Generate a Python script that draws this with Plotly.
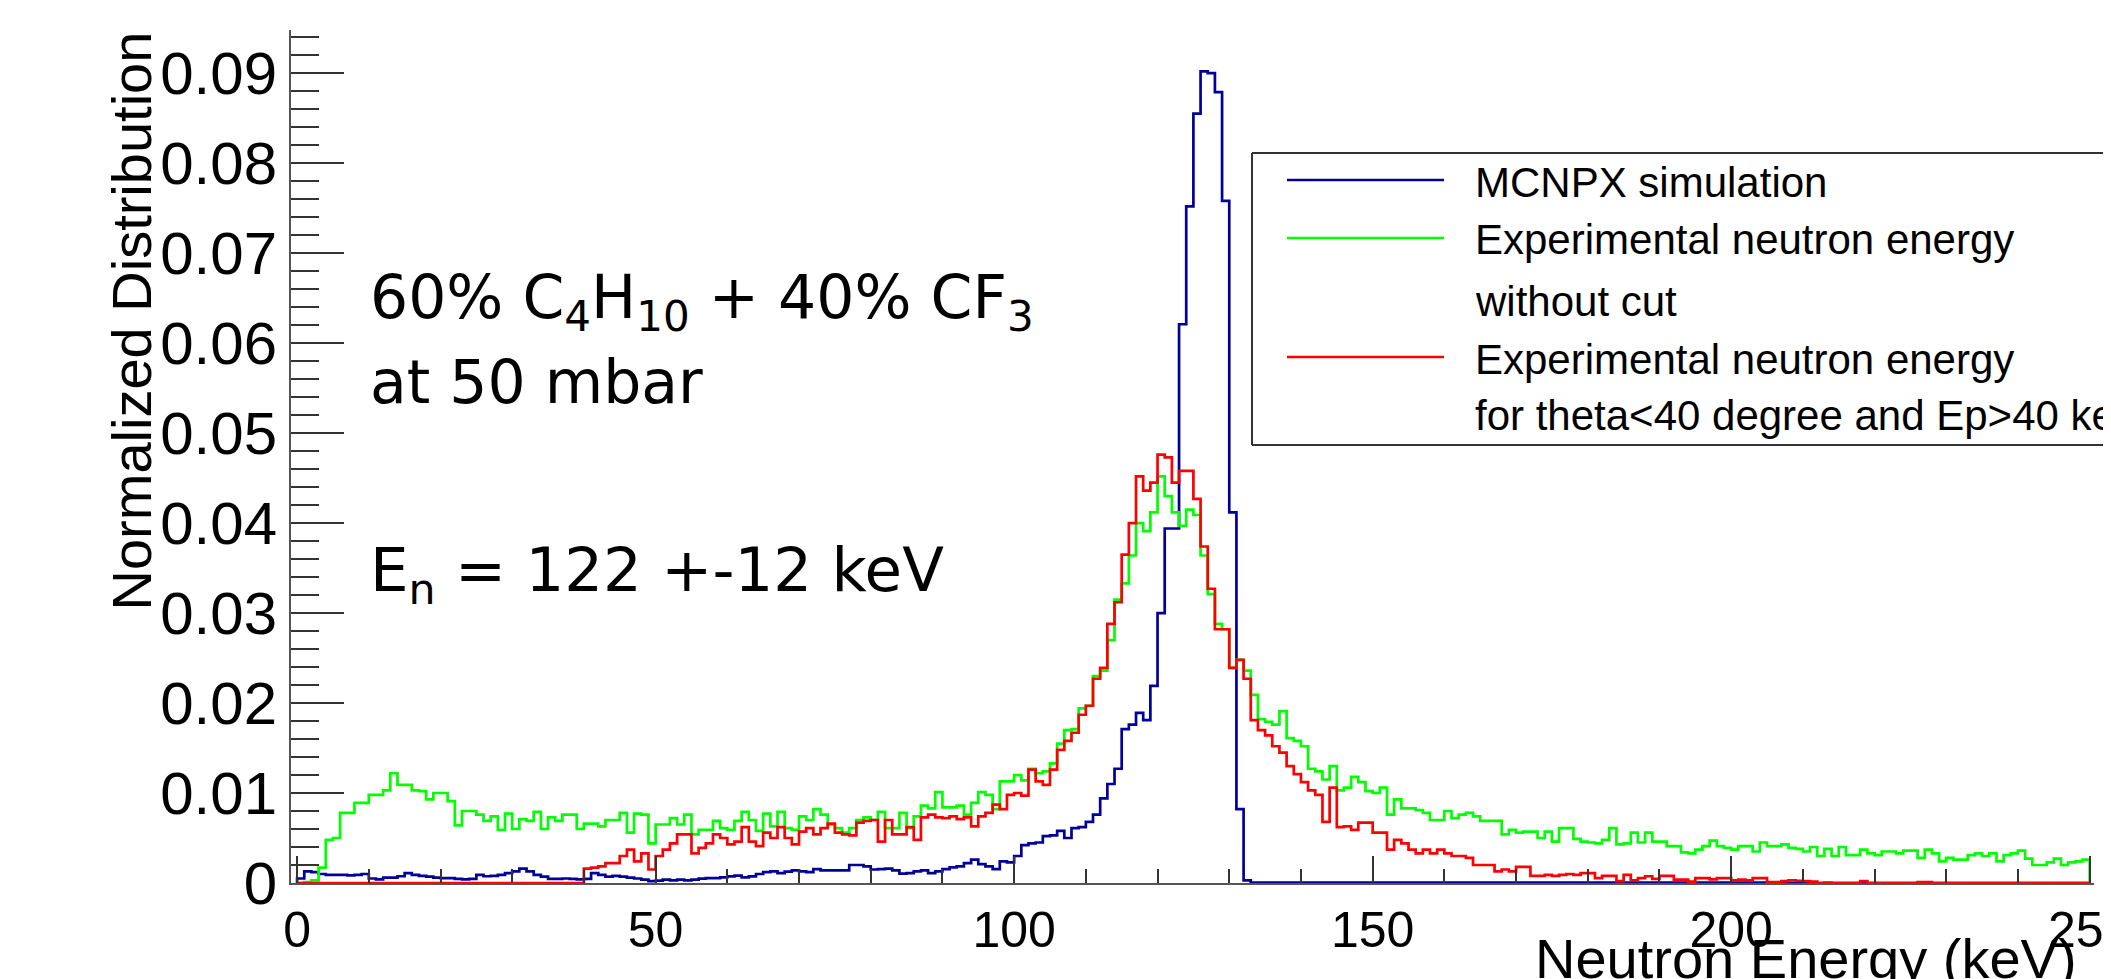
import plotly.graph_objects as go

# ---------------- data (bin width 1 keV, bins 0..249 keV), values in units of 1e-3 ----------------
bin_low_edges_keV = list(range(0, 250))

mcnpx_sim_e3 = [
    0.5, 1.3, 1.2, 1.0, 0.9, 0.9, 0.9, 0.85, 0.9, 1.0,
    0.5, 0.4, 0.6, 0.6, 0.75, 1.1, 0.9, 0.8, 0.7, 0.6,
    0.55, 0.55, 0.45, 0.4, 0.45, 0.9, 0.75, 0.8, 0.9, 1.1,
    1.3, 1.6, 1.3, 0.9, 0.7, 0.45, 0.45, 0.5, 0.45, 0.4,
    0.45, 1.1, 0.9, 0.7, 0.8, 0.7, 0.6, 0.5, 0.37, 0.2,
    0.26, 0.37, 0.3, 0.37, 0.3, 0.37, 0.48, 0.55, 0.55, 0.63,
    0.74, 0.81, 0.63, 0.74, 1.0, 1.2, 1.3, 1.1, 1.26, 1.4,
    1.3, 1.2, 1.55, 1.4, 1.4, 1.4, 1.4, 2.0, 2.0, 1.85,
    1.5, 1.55, 1.6, 1.4, 1.04, 1.1, 1.3, 1.4, 1.1, 1.3,
    1.55, 1.74, 1.85, 2.2, 2.6, 2.1, 1.85, 1.55, 2.4, 2.3,
    3.0, 4.2, 4.4, 4.5, 5.2, 5.3, 5.8, 5.0, 6.1, 6.2,
    6.8, 7.6, 9.4, 11.0, 12.7, 17.1, 17.6, 18.9, 18.1, 21.9,
    30.0, 39.4, 39.4, 62.1, 75.2, 85.5, 90.2, 90.0, 87.9, 75.8,
    41.2, 8.2, 0.3, 0.05, 0.05, 0.05, 0.05, 0.05, 0.05, 0.05,
    0.05, 0.05, 0.05, 0.05, 0.05, 0.05, 0.05, 0.05, 0.05, 0.05,
    0.05, 0.05, 0.05, 0.05, 0.05, 0.05, 0.05, 0.05, 0.05, 0.05,
    0.05, 0.05, 0.05, 0.05, 0.05, 0.05, 0.05, 0.05, 0.05, 0.05,
    0.05, 0.05, 0.05, 0.05, 0.05, 0.05, 0.05, 0.05, 0.05, 0.05,
    0.05, 0.05, 0.05, 0.05, 0.05, 0.05, 0.05, 0.05, 0.05, 0.05,
    0.05, 0.05, 0.05, 0.05, 0.05, 0.05, 0.05, 0.05, 0.05, 0.05,
    0.05, 0.05, 0.05, 0.05, 0.05, 0.05, 0.0, 0.0, 0.0, 0.0,
    0.0, 0.0, 0.0, 0.0, 0.0, 0.0, 0.0, 0.0, 0.0, 0.0,
    0.0, 0.0, 0.0, 0.0, 0.0, 0.0, 0.0, 0.0, 0.0, 0.0,
    0.0, 0.0, 0.0, 0.0, 0.0, 0.0, 0.0, 0.0, 0.0, 0.0,
    0.0, 0.0, 0.0, 0.0, 0.0, 0.0, 0.0, 0.0, 0.0, 0.0,
]

exp_nocut_e3 = [
    0.0, 0.1, 0.3, 1.7, 4.8, 5.0, 7.8, 7.8, 8.9, 8.9,
    9.8, 9.8, 10.3, 12.2, 10.9, 10.9, 10.3, 10.2, 9.3, 10.0,
    10.0, 9.1, 6.4, 8.0, 8.0, 7.6, 6.9, 7.4, 5.9, 7.7,
    6.0, 7.1, 6.9, 7.9, 6.0, 7.3, 6.9, 7.6, 7.6, 6.0,
    6.6, 6.6, 6.3, 7.0, 7.0, 7.8, 5.6, 7.7, 7.6, 4.4,
    6.5, 6.5, 7.2, 6.5, 7.6, 5.4, 5.9, 5.9, 6.9, 6.1,
    5.9, 6.9, 7.9, 7.0, 5.8, 7.7, 6.3, 7.9, 6.1, 5.9,
    7.4, 7.0, 8.2, 7.6, 6.5, 6.1, 5.6, 6.1, 7.0, 7.3,
    7.0, 7.9, 6.1, 6.1, 7.8, 6.1, 7.4, 8.6, 8.3, 10.1,
    8.4, 8.4, 8.6, 7.6, 8.9, 10.1, 9.8, 8.2, 11.3, 11.3,
    12.0, 11.4, 12.7, 12.2, 12.4, 13.3, 15.5, 17.0, 17.1, 19.4,
    19.7, 23.0, 23.6, 27.0, 31.5, 33.3, 36.4, 40.0, 39.1, 41.2,
    45.2, 43.0, 41.2, 39.7, 41.5, 40.9, 36.4, 32.1, 28.8, 28.2,
    23.9, 24.8, 23.6, 20.9, 18.2, 17.9, 17.6, 19.1, 16.1, 15.8,
    15.2, 12.7, 12.4, 11.5, 13.0, 10.3, 10.6, 11.8, 11.2, 10.2,
    10.0, 10.6, 7.6, 9.3, 8.3, 8.3, 8.1, 7.8, 7.0, 7.0,
    8.0, 7.2, 7.6, 7.8, 7.4, 6.9, 6.9, 6.9, 5.4, 5.9,
    5.6, 5.7, 5.7, 5.0, 5.7, 4.6, 6.1, 6.1, 4.9, 4.6,
    4.5, 4.4, 4.8, 6.1, 4.3, 4.4, 5.6, 4.5, 5.6, 4.6,
    4.6, 4.1, 4.1, 3.4, 3.3, 3.7, 4.1, 4.7, 4.1, 3.9,
    3.7, 4.1, 4.1, 3.5, 4.5, 4.1, 4.1, 4.3, 3.9, 3.8,
    3.5, 4.0, 3.0, 3.8, 3.0, 4.0, 3.1, 3.1, 3.7, 3.3,
    3.1, 3.5, 3.5, 3.3, 3.6, 3.6, 2.8, 3.7, 3.3, 2.4,
    2.8, 2.6, 2.6, 3.1, 3.3, 3.0, 3.3, 2.4, 3.1, 3.3,
    3.6, 2.7, 2.0, 2.0, 2.3, 2.7, 2.0, 2.3, 2.4, 2.6,
]

exp_cut_e3 = [
    0.0, 0.0, 0.0, 0.0, 0.0, 0.0, 0.0, 0.0, 0.0, 0.0,
    0.0, 0.0, 0.0, 0.0, 0.0, 0.0, 0.0, 0.0, 0.0, 0.0,
    0.0, 0.0, 0.0, 0.0, 0.0, 0.0, 0.0, 0.0, 0.0, 0.0,
    0.0, 0.0, 0.0, 0.0, 0.0, 0.0, 0.0, 0.0, 0.0, 0.0,
    1.6, 1.7, 1.85, 2.2, 2.2, 3.0, 3.7, 2.4, 3.3, 1.5,
    3.0, 3.7, 4.4, 5.4, 5.4, 3.3, 3.9, 4.4, 5.4, 5.0,
    4.3, 4.6, 6.2, 4.6, 4.1, 5.6, 5.0, 6.2, 5.0, 4.3,
    5.7, 6.1, 5.4, 6.1, 6.6, 5.6, 5.4, 5.3, 6.7, 6.9,
    7.0, 4.6, 7.0, 5.4, 5.4, 6.2, 4.8, 7.3, 7.6, 7.3,
    7.2, 7.4, 7.1, 7.3, 6.3, 7.4, 7.8, 8.7, 8.2, 9.8,
    10.0, 9.7, 12.6, 11.3, 10.9, 12.6, 14.8, 15.8, 16.7, 18.7,
    19.7, 22.7, 23.9, 28.8, 31.2, 36.5, 40.0, 45.2, 43.6, 44.5,
    47.6, 47.3, 44.5, 45.8, 45.8, 42.7, 37.4, 32.7, 28.2, 28.2,
    23.9, 24.8, 22.7, 18.1, 17.0, 16.4, 15.2, 14.5, 13.0, 12.1,
    11.2, 10.3, 9.8, 6.8, 10.6, 6.2, 6.3, 5.9, 6.7, 6.7,
    5.6, 5.6, 3.7, 4.8, 4.4, 3.7, 3.3, 3.7, 3.3, 3.7,
    3.3, 3.0, 3.0, 2.8, 2.0, 2.0, 2.0, 1.3, 1.5, 1.3,
    1.8, 1.8, 0.8, 0.8, 0.9, 0.8, 0.9, 1.0, 0.9, 1.1,
    1.1, 0.55, 0.8, 0.8, 0.2, 0.9, 0.3, 0.55, 0.75, 0.45,
    0.8, 0.8, 0.37, 0.37, 0.15, 0.55, 0.55, 0.4, 0.55, 0.55,
    0.3, 0.37, 0.3, 0.55, 0.55, 0.1, 0.1, 0.2, 0.3, 0.25,
    0.2, 0.15, 0.0, 0.05, 0.0, 0.0, 0.0, 0.0, 0.2, 0.0,
    0.0, 0.0, 0.0, 0.0, 0.0, 0.0, 0.1, 0.1, 0.0, 0.0,
    0.0, 0.0, 0.0, 0.0, 0.0, 0.0, 0.0, 0.0, 0.0, 0.0,
    0.0, 0.0, 0.0, 0.0, 0.0, 0.0, 0.0, 0.0, 0.0, 0.0,
]

bin_width_keV = 1
x_major_ticks = [0, 50, 100, 150, 200, 250]
x_tick_labels = ["0", "50", "100", "150", "200", "250"]
y_major_ticks = [0, 0.01, 0.02, 0.03, 0.04, 0.05, 0.06, 0.07, 0.08, 0.09]
y_tick_labels = ["0", "0.01", "0.02", "0.03", "0.04", "0.05", "0.06", "0.07", "0.08", "0.09"]

series = [
    ("MCNPX simulation", mcnpx_sim_e3, "#000099"),
    ("Experimental neutron energy without cut", exp_nocut_e3, "#00ff00"),
    ("Experimental neutron energy for theta<40 degree and Ep>40 keV", exp_cut_e3, "#ff0000"),
]

# ---------------- geometry ----------------
# The page body has an 8 px default margin, so the figure starts at (8, 8) in the window.
W, H = 2111, 979
PAGE_OFF = 8
# plot area in window pixels
L, R, T, B = 291, 2094, 30, 883


def px(xp):
    return (xp - L) / (R - L)


def py(yp):
    return (B - yp) / (B - T)


fig = go.Figure()


def hist_outline(values_e3):
    xs = [bin_low_edges_keV[0]]
    ys = [0.0]
    for e, v in zip(bin_low_edges_keV, values_e3):
        xs.append(e)
        ys.append(v / 1000.0)
    last_edge = bin_low_edges_keV[-1] + bin_width_keV
    xs += [last_edge, last_edge]
    ys += [values_e3[-1] / 1000.0, 0.0]
    return xs, ys


for name, vals, col in series:
    xs, ys = hist_outline(vals)
    fig.add_trace(go.Scatter(x=xs, y=ys, mode="lines", name=name,
                             line=dict(color=col, width=2.7, shape="hv"),
                             showlegend=False, hoverinfo="skip"))

axis_font = dict(family="Liberation Sans, Arial, sans-serif", color="black")

x_minor = [v for v in range(0, 251, 10) if v % 50 != 0]
y_minor = [round(i * 0.002, 3) for i in range(0, 48) if (i % 5) != 0]

fig.update_xaxes(
    range=[-0.85, 250.6], showgrid=False, zeroline=False, automargin=False,
    showline=True, linecolor="#555555", linewidth=2,
    ticks="inside", ticklen=27, tickwidth=2, tickcolor="#333333",
    tickmode="array", tickvals=x_major_ticks, ticktext=x_tick_labels,
    tickfont=dict(size=50, **axis_font), ticklabelstandoff=2,
    ticklabeloverflow="allow",
    minor=dict(tickmode="array", tickvals=x_minor, ticks="inside", ticklen=14,
               tickwidth=1.6, tickcolor="#333333"),
)
fig.update_yaxes(
    range=[0, 0.0948], showgrid=False, zeroline=False, automargin=False,
    showline=True, linecolor="#555555", linewidth=2,
    ticks="inside", ticklen=53, tickwidth=2, tickcolor="#333333",
    tickmode="array", tickvals=y_major_ticks, ticktext=y_tick_labels,
    tickfont=dict(size=60, **axis_font), ticklabelstandoff=0,
    ticklabeloverflow="allow",
    minor=dict(tickmode="array", tickvals=y_minor, ticks="inside", ticklen=28,
               tickwidth=1.6, tickcolor="#333333"),
)

annotations = []
# axis titles
annotations.append(dict(text="Normalized Distribution", textangle=-90,
                        x=px(131), y=py(T), xref="paper", yref="paper",
                        xanchor="center", yanchor="top", showarrow=False,
                        font=dict(size=56, **axis_font)))
annotations.append(dict(text="Neutron Energy (keV)",
                        x=px(2079), y=py(925), xref="paper", yref="paper",
                        xanchor="right", yanchor="top", showarrow=False,
                        font=dict(size=56, **axis_font)))

# gas / energy labels
gas_font = dict(family="DejaVu Sans, Verdana, sans-serif", size=60, color="black")
annotations.append(dict(text="60% C<sub>4</sub>H<sub>10</sub> + 40% CF<sub>3</sub>",
                        x=px(368), y=py(302), xref="paper", yref="paper",
                        xanchor="left", yanchor="middle", showarrow=False, font=gas_font))
annotations.append(dict(text="at 50 mbar",
                        x=px(368), y=py(382), xref="paper", yref="paper",
                        xanchor="left", yanchor="middle", showarrow=False, font=gas_font))
annotations.append(dict(text="E<sub>n</sub> = 122 +-12 keV",
                        x=px(368), y=py(574), xref="paper", yref="paper",
                        xanchor="left", yanchor="middle", showarrow=False,
                        font=dict(gas_font, size=61)))

# legend (drawn manually, ROOT TLegend style; right side runs off the picture)
box_l, box_r, box_t, box_b = 1252, 2300, 153, 445
frame_line = dict(color="#333333", width=2)
shapes = [
    dict(type="rect", xref="paper", yref="paper", x0=px(box_l), x1=px(box_r),
         y0=py(box_b), y1=py(box_t), line=dict(width=0), fillcolor="white", layer="above"),
    dict(type="line", xref="paper", yref="paper", x0=px(box_l), x1=px(box_r),
         y0=py(box_t), y1=py(box_t), line=frame_line, layer="above"),
    dict(type="line", xref="paper", yref="paper", x0=px(box_l), x1=px(box_r),
         y0=py(box_b), y1=py(box_b), line=frame_line, layer="above"),
    dict(type="line", xref="paper", yref="paper", x0=px(box_l), x1=px(box_l),
         y0=py(box_b), y1=py(box_t), line=frame_line, layer="above"),
]
leg_font = dict(size=42, **axis_font)
legend_rows = [
    ("MCNPX simulation", "#000099", 180),
    ("Experimental neutron energy", "#00ff00", 238),
    ("without cut", None, 299),
    ("Experimental neutron energy", "#ff0000", 357),
    ("for theta<40 degree and Ep>40 keV", None, 413),
]
for txt, col, yy in legend_rows:
    if col is not None:
        shapes.append(dict(type="line", xref="paper", yref="paper",
                           x0=px(1287), x1=px(1444), y0=py(yy), y1=py(yy),
                           line=dict(color=col, width=2.7), layer="above"))
    annotations.append(dict(text=txt, x=px(1473), y=py(yy + 2), xref="paper", yref="paper",
                            xanchor="left", yanchor="middle", showarrow=False, font=leg_font))

fig.update_layout(
    width=W, height=H,
    margin=dict(l=L - PAGE_OFF, r=W - (R - PAGE_OFF), t=T - PAGE_OFF, b=H - (B - PAGE_OFF),
                autoexpand=False),
    paper_bgcolor="white", plot_bgcolor="white",
    showlegend=False,
    annotations=annotations, shapes=shapes,
)

fig.write_html("out.html")
